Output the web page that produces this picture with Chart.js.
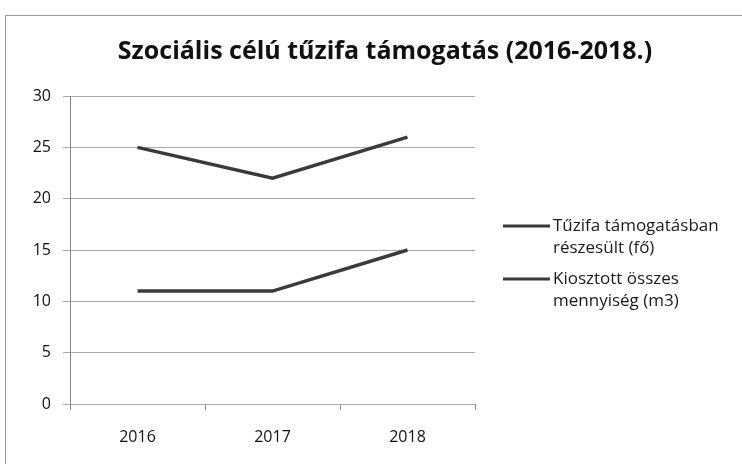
<!DOCTYPE html>
<html>
<head>
<meta charset="utf-8">
<script src="https://cdn.jsdelivr.net/npm/chart.js@4"></script>
<style>
  html, body { margin: 0; padding: 0; background: #fff; }
  #wrap { position: relative; width: 742px; height: 464px; overflow: hidden; }
  #frame { position: absolute; left: 5px; top: 15px; width: 760px; height: 470px; border: 1px solid #9a9a9a; box-sizing: border-box; }
  canvas { position: absolute; left: 0; top: 0; }
</style>
</head>
<body>
<div id="wrap">
  <div id="frame"></div>
  <canvas id="chart" width="742" height="464"></canvas>
</div>
<script>
// adatok
const years = ['2016', '2017', '2018'];
const tamogatottak = [25, 22, 26];   // Tűzifa támogatásban részesült (fő)
const mennyiseg = [11, 11, 15];      // Kiosztott összes mennyiség (m3)
const legendLines1 = ['Tűzifa támogatásban', 'részesült (fő)'];
const legendLines2 = ['Kiosztott összes', 'mennyiség (m3)'];
const yTicks = [0, 5, 10, 15, 20, 25, 30];
const chartTitle = 'Szociális célú tűzifa támogatás (2016-2018.)';

const FONT = '"Open Sans", "DejaVu Sans", sans-serif';

// cím a teljes szélességre középre + saját jelmagyarázat (két soros szöveg)
const sidePlugin = {
  id: 'sideLegend',
  afterDraw(chart) {
    const ctx = chart.ctx;
    ctx.save();
    ctx.fillStyle = '#111';
    ctx.font = 'bold 25px ' + FONT;
    ctx.textAlign = 'center';
    ctx.textBaseline = 'middle';
    ctx.fillText(chartTitle, 385, 52);

    const x0 = 503, x1 = 550, tx = 553;
    const starts = [226, 279];
    chart.data.datasets.forEach((ds, i) => {
      const y = starts[i];
      ctx.strokeStyle = ds.borderColor;
      ctx.lineWidth = 3;
      ctx.beginPath();
      ctx.moveTo(x0, y);
      ctx.lineTo(x1, y);
      ctx.stroke();
      ctx.fillStyle = '#1a1a1a';
      ctx.font = '17px ' + FONT;
      ctx.textBaseline = 'middle';
      ctx.textAlign = 'left';
      ds.legendLines.forEach((t, j) => ctx.fillText(t, tx, y + j * 22));
    });
    ctx.restore();
  }
};

new Chart(document.getElementById('chart').getContext('2d'), {
  type: 'line',
  data: {
    labels: years,
    datasets: [{
      label: legendLines1.join(' '),
      legendLines: legendLines1,
      data: tamogatottak,
      borderColor: '#3a3a3a',
      borderWidth: 3.5,
      pointRadius: 0,
      tension: 0
    }, {
      label: legendLines2.join(' '),
      legendLines: legendLines2,
      data: mennyiseg,
      borderColor: '#3a3a3a',
      borderWidth: 3.5,
      pointRadius: 0,
      tension: 0
    }]
  },
  options: {
    responsive: false,
    animation: false,
    layout: { padding: { left: 0, right: 267, top: 96, bottom: 0 } },
    plugins: {
      legend: { display: false },
      tooltip: { enabled: false },
      title: { display: false }
    },
    scales: {
      x: {
        offset: true,
        grid: { drawOnChartArea: false, offset: true, tickLength: 6, color: '#888' },
        border: { display: false },
        ticks: { color: '#111', font: { family: FONT, size: 16 }, padding: 18 },
        afterFit(scale) { scale.height = 60; }
      },
      y: {
        min: 0,
        max: 30,
        afterBuildTicks(scale) { scale.ticks = yTicks.map(v => ({ value: v })); },
        grid: { color: '#a8a8a8', lineWidth: 1, tickLength: 7 },
        border: { color: '#888' },
        ticks: { color: '#111', font: { family: FONT, size: 16 }, padding: 12 },
        afterFit(scale) { scale.width = 70; }
      }
    }
  },
  plugins: [sidePlugin]
});
</script>
</body>
</html>
